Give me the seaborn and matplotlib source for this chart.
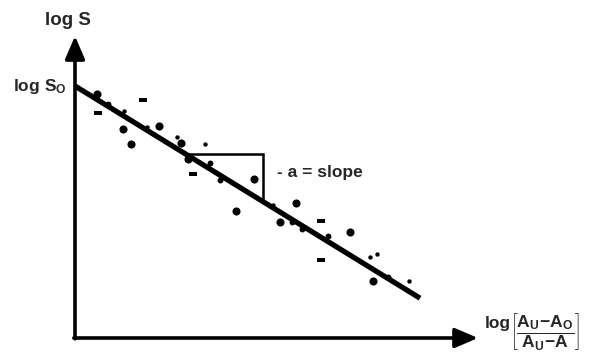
import numpy as np
import pandas as pd
import matplotlib
matplotlib.use("Agg")
import matplotlib.pyplot as plt
import seaborn as sns

# Fitted relation: log S = log S0 - a * log[(Au - Ao)/(Au - A)]
log_s0 = 6.3
a_slope = 0.615
line_x = [0.0, 8.625]

# Observations, grouped by how they were plotted
big_x = [0.55, 1.20, 1.40, 2.10, 2.65, 2.825, 4.475, 4.025, 5.525, 5.125, 6.875, 7.45]
big_y = [6.10, 5.225, 4.85, 5.30, 4.875, 4.475, 3.975, 3.175, 3.375, 2.90, 2.65, 1.425]

mid_x = [0.825, 3.375, 3.625, 5.425, 5.675, 6.325, 7.825]
mid_y = [5.85, 4.375, 3.95, 2.90, 2.725, 2.55, 1.525]

small_x = [1.225, 1.80, 2.55, 3.25, 4.95, 7.375, 7.55, 8.35]
small_y = [5.675, 5.275, 5.025, 4.85, 3.325, 2.025, 2.10, 1.425]

dash_x = [1.70, 0.575, 2.95, 6.15, 6.15]
dash_y = [5.95, 5.625, 4.10, 1.95, 2.925]

# Slope triangle: horizontal run between these x values
tri_x = [2.75, 4.70]

sns.set_theme(style="white")
plt.rcParams["font.family"] = ["Liberation Sans", "DejaVu Sans"]
plt.rcParams["mathtext.fontset"] = "custom"
plt.rcParams["mathtext.rm"] = "Liberation Sans:bold"
plt.rcParams["mathtext.it"] = "Liberation Sans:bold"
plt.rcParams["mathtext.bf"] = "Liberation Sans:bold"

fig = plt.figure(figsize=(5.95, 3.56), dpi=100)
ax = fig.add_axes([0, 0, 1, 1])
ax.set_xlim(-1.875, 13.0)
ax.set_ylim(-0.45, 8.45)
ax.set_axis_off()

# Axes drawn as arrows from the origin
arrow = dict(arrowstyle="-|>,head_length=0.7,head_width=0.3", lw=2.6,
             color="black", mutation_scale=20, shrinkA=0, shrinkB=0)
ax.annotate("", xy=(0, 7.55), xytext=(0, -0.02), arrowprops=arrow)
ax.annotate("", xy=(10.075, 0), xytext=(-0.03, 0), arrowprops=arrow)

# Regression line
fit = pd.DataFrame({"x": line_x})
fit["y"] = log_s0 - a_slope * fit["x"]
sns.lineplot(data=fit, x="x", y="y", ax=ax, color="black", lw=3.8,
             solid_capstyle="butt", legend=False)

# Slope triangle
tri_top = log_s0 - a_slope * tri_x[0]
tri_bot = log_s0 - a_slope * tri_x[1]
ax.plot([tri_x[0], tri_x[1], tri_x[1]], [tri_top, tri_top, tri_bot],
        color="black", lw=1.8, solid_joinstyle="miter")

# Data points
sns.scatterplot(x=big_x, y=big_y, ax=ax, s=34, color="black", linewidth=0)
sns.scatterplot(x=mid_x, y=mid_y, ax=ax, s=18, color="black", linewidth=0)
sns.scatterplot(x=small_x, y=small_y, ax=ax, s=10, color="black", linewidth=0)
dash_marker = [(-1, -0.6), (1, -0.6), (1, 0.6), (-1, 0.6), (-1, -0.6)]
sns.scatterplot(x=dash_x, y=dash_y, ax=ax, s=26, color="black", linewidth=0,
                marker=dash_marker)

# Labels
ax.text(-0.175, 7.925, "log S", ha="center", va="center",
        fontsize=13.5, fontweight="bold")
ax.text(-0.2, 6.28, r"$\mathrm{log\ S_O}$", ha="right", va="center",
        fontsize=12.5)
ax.text(5.05, 4.125, "- a = slope", ha="left", va="center",
        fontsize=12.5, fontweight="bold")
ax.text(10.25, 0.36, "log", ha="left", va="center",
        fontsize=12.5, fontweight="bold")
ax.text(10.875, 0.14,
        r"$\left[\dfrac{\mathrm{A_U\!-\!A_O}}{\mathrm{A_U\!-\!A}}\right]$",
        ha="left", va="center", fontsize=12.5)

fig.savefig("out.png", dpi=100)
